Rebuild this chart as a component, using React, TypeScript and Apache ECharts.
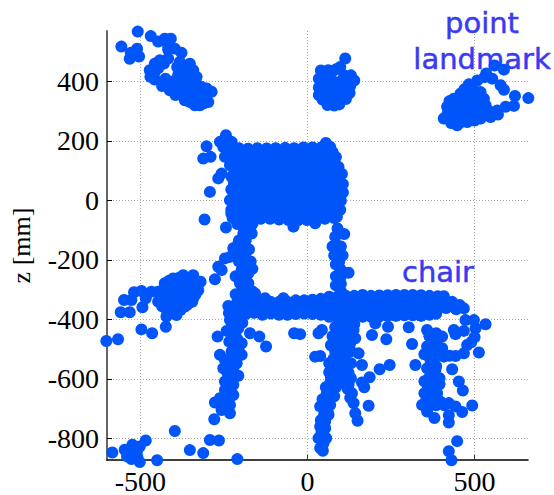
import React, { useEffect, useRef } from "react";
import * as echarts from "echarts";

type P = [number, number];

const upperLeftCluster: P[] = [
  [-508,567],[-557,517],[-510,510],[-529,496],[-532,476],[-504,484],[-469,552],[-447,534],[-427,543],[-409,543],
  [-417,521],[-417,507],[-397,510],[-377,496],[-442,471],[-417,477],[-457,460],[-472,438],[-457,432],[-470,416],
  [-457,407],[-382,466],[-352,460],[-390,449],[-362,438],[-342,438],[-332,416],[-362,416],[-387,421],[-417,393],
  [-392,393],[-362,388],[-332,393],[-302,377],[-287,366],[-412,371],[-382,366],[-352,360],[-322,360],[-297,332],
  [-367,338],[-337,321],[-322,321],[-332,349],[-307,343],[-352,332],[-317,382],[-347,399],
  [-375,445],[-350,425],[-375,405],[-400,380],[-375,380],[-345,375],[-310,360],[-395,355],[-365,352],[-340,335],[-310,328],
  [-430,460],[-447,445],[-405,400],[-435,385],[-425,410],
];

const upperCentreCluster: P[] = [
  [40,437],[62,438],[85,441],[98,449],[113,477],[110,421],[130,421],[140,404],[34,410],[60,412],[34,380],[58,385],
  [82,385],[106,385],[128,385],[34,355],[58,358],[82,360],[106,360],[126,362],[45,340],[68,338],[92,338],[115,342],
  [60,322],[80,320],[95,324],[46,398],[70,398],[94,398],[118,400],[46,370],[70,372],[94,372],[118,374],[56,348],[80,348],[104,350],
  [105,405],[50,425],[70,425],[120,410],
];

const upperRightCluster: P[] = [
  [661,345],[621,352],[588,440],[560,454],[535,427],[553,410],[578,388],[588,373],[508,404],[483,391],[518,365],
  [618,319],[593,316],[568,304],[548,282],[458,360],[438,343],[418,316],[408,277],[448,254],[478,265],[518,277],
  [478,360],[508,354],[528,343],[533,321],[518,304],[493,293],[468,282],[438,277],[433,304],[458,310],[488,321],
  [508,327],[468,343],[493,343],[445,330],[470,315],[430,262],[460,265],[500,270],
  [420,295],[445,295],[425,335],[458,280],[480,305],[505,310],[455,345],[480,335],[500,285],[525,290],[470,375],[495,375],
  [530,415],[570,290],[540,305],
];

const chairBack: P[] = [
  [-205,178],[-178,176],[-150,178],[-122,177],[-95,178],[-67,179],[-40,178],[-12,180],[15,180],[42,181],[68,182],
  [-212,150],[-185,149],[-158,150],[-130,151],[-103,150],[-75,149],[-48,151],[-20,150],[8,151],[35,150],[62,150],[85,148],
  [-216,120],[-188,121],[-160,120],[-133,122],[-105,120],[-78,121],[-50,120],[-23,122],[5,120],[32,121],[60,120],[88,118],
  [-220,92],[-192,90],[-165,92],[-137,90],[-110,91],[-82,90],[-55,92],[-27,90],[0,91],[28,90],[55,92],[82,90],[103,92],
  [-220,60],[-192,62],[-165,60],[-137,61],[-110,60],[-82,62],[-55,60],[-27,61],[0,60],[28,62],[55,60],[82,61],[106,58],
  [-222,30],[-195,32],[-167,30],[-140,31],[-112,30],[-85,32],[-57,30],[-30,31],[-2,30],[25,32],[53,30],[80,31],[106,30],
  [-228,2],[-200,0],[-172,2],[-145,0],[-117,1],[-90,0],[-62,2],[-35,0],[-7,1],[20,0],[48,2],[75,0],[100,2],
  [-228,-28],[-200,-30],[-172,-28],[-145,-30],[-117,-29],[-90,-28],[-62,-30],[-35,-28],[-7,-30],[20,-29],[48,-28],[75,-30],[98,-28],
  [-224,-55],[-196,-58],[-168,-56],[-140,-58],[-112,-58],[-85,-60],[-57,-62],[-30,-64],[-2,-62],[25,-60],[52,-58],[80,-55],
];

const chairBackInner: P[] = [
  [-198,164],[-171,163],[-143,164],[-115,164],[-88,164],[-60,165],[-33,164],[-5,165],[22,165],[48,165],[75,165],
  [-200,135],[-173,135],[-145,136],[-118,136],[-90,135],[-62,135],[-35,136],[-8,136],[18,135],[46,135],[74,134],
  [-204,106],[-176,105],[-148,106],[-120,106],[-93,105],[-66,106],[-38,106],[-10,105],[18,105],[44,106],[72,105],
  [-206,76],[-178,76],[-150,76],[-123,75],[-96,76],[-68,76],[-41,76],[-13,75],[14,76],[41,76],[68,76],[94,75],
  [-208,46],[-180,46],[-152,46],[-126,46],[-98,46],[-70,46],[-43,46],[-16,46],[12,46],[40,46],[66,46],[94,45],
  [-214,16],[-186,16],[-158,16],[-128,16],[-100,16],[-72,16],[-46,16],[-18,16],[10,16],[36,16],[64,16],[90,16],
  [-214,-14],[-186,-14],[-158,-14],[-130,-14],[-103,-14],[-76,-14],[-48,-14],[-20,-14],[6,-14],[34,-14],[62,-14],[88,-14],
  [-210,-43],[-182,-44],[-156,-44],[-128,-44],[-98,-45],[-72,-46],[-44,-46],[-16,-46],[10,-45],[38,-44],[66,-42],
];

const chairBackEdges: P[] = [
  [-244,221],[-262,199],[-227,199],[-302,184],[-312,143],[-290,149],[-267,77],[-257,93],[-292,32],[-308,-60],[-244,-87],
  [-232,4],[-252,182],[-247,149],[-232,121],[-227,82],[55,195],[83,149],[93,115],[88,-51],[-42,-84],[23,-73],[-167,-107],
  [-192,-107],[-232,150],[-225,165],[-228,40],[-228,-40],[-210,-75],[-185,-78],[-165,-75],
];

const backPosts: P[] = [
  [-207,-140],[-222,-156],[-185,-130],[-205,-130],[-200,-160],[-175,-160],[-187,-179],[-182,-207],[-232,-185],[-247,-190],
  [-267,-218],[-257,-229],[-197,-229],[-177,-240],[-202,-273],[-177,-273],[-277,-260],[-197,-301],[-172,-301],[-205,-200],
  [-190,-100],[-195,-250],[-185,-290],[-185,-255],[-170,-200],[-210,-180],[-165,-225],[-215,-250],[-165,-300],[-215,-310],
  [110,-109],[83,-118],[88,-146],[92,-175],[80,-180],[105,-180],[95,-200],[98,-225],[123,-238],[100,-250],[100,-275],[100,-300],
  [90,-90],[75,-150],[100,-150],[85,-210],[85,-250],[85,-280],
];

const seat: P[] = [
  [-237,-349],[-232,-396],[-157,-307],[-127,-323],[-72,-323],
  [-235,-372],[-210,-335],[-185,-330],[-160,-330],[-135,-335],[-110,-335],[-85,-335],[-60,-335],[-35,-330],[-10,-330],[15,-328],[40,-325],
  [-210,-358],[-185,-358],[-160,-358],[-135,-358],[-110,-358],[-85,-358],[-60,-358],[-35,-358],[-10,-358],[15,-358],[40,-355],
  [-210,-378],[-185,-376],[-160,-372],[-135,-378],[-110,-374],[-85,-378],[-60,-378],[-35,-376],[-10,-374],[15,-376],[40,-378],
  [-198,-347],[-172,-345],[-148,-345],[-122,-347],[-97,-347],[-72,-347],[-47,-345],[-22,-345],[3,-343],[28,-342],
  [-198,-368],[-172,-366],[-148,-366],[-122,-366],[-97,-368],[-72,-368],[-47,-367],[-22,-366],[3,-367],[28,-367],
  [65,-318],[90,-318],[115,-315],[140,-315],[165,-312],[190,-315],[215,-314],[240,-313],[265,-312],[290,-312],[315,-312],[340,-313],[365,-315],[390,-316],[408,-316],
  [65,-342],[90,-342],[115,-342],[140,-342],[165,-340],[190,-342],[215,-340],[240,-342],[265,-340],[290,-340],[315,-340],[340,-340],[365,-340],[390,-338],[415,-335],[433,-335],
  [65,-368],[90,-368],[115,-366],[140,-366],[165,-368],[190,-366],[215,-368],[240,-366],[265,-366],[290,-366],[315,-366],[340,-366],[365,-364],[390,-360],[415,-356],[456,-346],[468,-357],[445,-360],
  [65,-385],[90,-388],[115,-386],[140,-385],[165,-385],[190,-385],[215,-384],[240,-382],[265,-382],[290,-380],[315,-380],[340,-382],[365,-378],[385,-375],
  [78,-330],[102,-330],[128,-328],[152,-327],[178,-327],[202,-327],[228,-327],[252,-326],[278,-326],[302,-326],[328,-326],[352,-326],[378,-327],[402,-328],
  [78,-355],[102,-355],[128,-354],[152,-354],[178,-354],[202,-354],[228,-354],[252,-353],[278,-353],[302,-353],[328,-353],[352,-352],[378,-350],[402,-347],
  [78,-377],[102,-377],[128,-376],[152,-376],[178,-376],[202,-376],[228,-375],[252,-374],[278,-373],[302,-373],[328,-373],[352,-372],
];

const looseUnderSeat: P[] = [
  [-22,-443],[-124,-484],[-144,-451],[-172,-440],[203,-407],[241,-418],[303,-420],[193,-446],[236,-460],[313,-476],
  [246,-546],[216,-560],[186,-587],[323,-546],[163,-604],[170,-620],[183,-682],[433,-560],[453,-601],[465,-631],
  [493,-681],[513,-504],[533,-410],[448,-800],[423,-834],[431,-864],[463,-703],[423,-714],[423,-738],[380,-723],
  [23,-518],[38,-516],[-40,-440],
];

const leftLump: P[] = [
  [-602,-466],[-567,-460],[-497,-427],[-465,-440],[-424,-418],[-559,-370],[-532,-370],[-549,-329],[-519,-303],[-497,-299],
  [-494,-353],[-527,-329],[-484,-323],[-467,-301],[-342,-246],[-372,-246],[-402,-257],[-427,-273],[-447,-301],[-447,-334],
  [-424,-357],[-422,-384],[-392,-379],[-367,-351],[-342,-323],[-327,-296],[-320,-268],[-372,-273],[-347,-273],[-397,-284],
  [-372,-301],[-347,-301],[-417,-307],[-392,-312],[-367,-326],[-412,-334],[-392,-346],[-402,-360],
  [-357,-258],[-387,-262],[-410,-280],[-360,-288],[-385,-290],[-428,-290],[-405,-295],[-335,-285],[-355,-315],[-380,-320],
  [-405,-320],[-430,-320],[-425,-340],[-380,-338],[-405,-372],[-380,-362],[-355,-338],[-440,-315],[-435,-350],[-410,-350],
  [-380,-275],[-330,-275],[-335,-310],[-345,-335],[-360,-345],[-385,-255],[-415,-265],
];

const frontLeftLeg: P[] = [
  [-212,-384],[-207,-423],[-242,-432],[-269,-451],[-234,-468],[-197,-473],[-217,-484],[-227,-501],[-262,-512],[-197,-512],
  [-247,-529],[-212,-540],[-252,-557],[-222,-557],[-207,-582],[-232,-584],[-247,-601],[-222,-612],[-247,-629],[-222,-646],
  [-262,-657],[-277,-671],[-232,-679],[-252,-679],[-257,-696],[-232,-707],[-279,-727],[-222,-440],[-210,-460],[-225,-525],
  [-195,-405],[-225,-415],[-215,-450],[-205,-500],[-235,-545],[-240,-570],[-235,-620],[-235,-655],[-245,-665],[-240,-690],
];

const floorLeft: P[] = [
  [-584,-838],[-547,-829],[-524,-812],[-502,-818],[-484,-798],[-540,-851],[-527,-860],[-509,-853],[-502,-870],[-450,-864],
  [-397,-766],[-352,-830],[-312,-840],[-292,-796],[-265,-798],[-210,-860],[-530,-835],[-510,-832],
];

const frontCentreLeg: P[] = [
  [83,-420],[113,-420],[43,-429],[33,-440],[83,-451],[113,-440],[143,-457],[138,-429],[98,-473],[128,-473],[83,-501],[118,-507],
  [153,-507],[163,-546],[78,-546],[108,-551],[78,-525],[105,-528],[123,-573],[83,-579],[105,-585],[98,-607],[123,-612],[73,-629],
  [133,-640],[138,-673],[143,-707],[150,-732],[58,-640],[68,-679],[53,-684],[63,-712],[53,-734],[53,-757],[56,-790],[48,-807],
  [46,-832],[38,-684],[38,-751],[33,-790],[38,-823],[85,-620],[68,-605],[62,-660],[98,-400],[98,-435],[105,-460],[100,-490],
  [92,-525],[92,-560],[100,-570],[75,-610],[50,-710],[40,-730],[42,-770],[128,-655],[120,-625],
  [70,-480],[130,-500],[65,-540],[65,-570],[130,-590],[70,-585],[55,-620],[80,-650],[45,-660],[60,-700],[130,-540],[115,-590],[75,-450],[125,-415],[140,-410],
];

const rearRightLeg: P[] = [
  [358,-429],[403,-451],[378,-473],[358,-484],[403,-490],[373,-507],[408,-518],[443,-516],[468,-507],[478,-479],[500,-453],
  [503,-423],[498,-396],[473,-396],[438,-429],[468,-432],[443,-443],[368,-529],[378,-535],[358,-557],[383,-562],[363,-590],
  [378,-612],[358,-640],[388,-640],[373,-662],[343,-679],[368,-679],[398,-668],[423,-673],[443,-684],[358,-701],[380,-580],
  [360,-615],[385,-470],[490,-470],[425,-515],[385,-500],[385,-550],[372,-640],[355,-665],[385,-680],[410,-680],
  [365,-450],[385,-440],[350,-510],[350,-600],[395,-610],[395,-590],[375,-600],[365,-650],[350,-640],
];

const allPoints: P[] = [
  ...upperLeftCluster, ...upperCentreCluster, ...upperRightCluster, ...chairBack, ...chairBackInner, ...chairBackEdges, ...backPosts,
  ...seat, ...looseUnderSeat, ...leftLump, ...frontLeftLeg, ...floorLeft, ...frontCentreLeg, ...rearRightLeg,
];

const yAxisName = "z [mm]";
const annotations = ["point", "landmark", "chair"];

export default function App() {
  const axesRef = useRef<HTMLDivElement>(null);
  const pointsRef = useRef<HTMLDivElement>(null);
  useEffect(() => {
    const axesChart = echarts.init(axesRef.current!, undefined, { renderer: "svg" });
    const pointsChart = echarts.init(pointsRef.current!, undefined, { renderer: "svg" });
    const serif = "Liberation Serif";
    const grid = { left: 107, right: 26, top: 31, bottom: 32 };
    const splitLine = { show: true, showMinLine: false, showMaxLine: false, lineStyle: { color: "#a8a8a8", type: [1, 2] as any, width: 1 } };
    const annotationStyle = { fill: "#3a3af2", stroke: "#3a3af2", lineWidth: 0.5, fontFamily: "DejaVu Sans", fontSize: 29, textAlign: "center" as const };
    axesChart.setOption({
      animation: false,
      backgroundColor: "#ffffff",
      grid,
      xAxis: {
        type: "value", min: -600, max: 660, splitNumber: 3,
        axisLine: { onZero: false, lineStyle: { color: "#000", width: 1.5 } },
        axisTick: { inside: true, length: 5, lineStyle: { color: "#333" } },
        axisLabel: { color: "#000", fontFamily: serif, fontSize: 28, margin: 7, showMinLabel: false, showMaxLabel: false },
        splitLine,
      },
      yAxis: {
        type: "value", min: -873, max: 569, splitNumber: 7,
        name: yAxisName, nameLocation: "middle", nameGap: 73,
        nameTextStyle: { color: "#000", fontFamily: serif, fontSize: 26 },
        axisLine: { onZero: false, lineStyle: { color: "#666", width: 2 } },
        axisTick: { inside: true, length: 5, lineStyle: { color: "#000" } },
        axisLabel: { color: "#000", fontFamily: serif, fontSize: 28, margin: 8, showMinLabel: false, showMaxLabel: false },
        splitLine,
      },
      series: [{ type: "scatter", data: [] }],
      graphic: [
        { type: "text", x: 482, y: 8, z: 10, style: { ...annotationStyle, text: annotations[0] } },
        { type: "text", x: 482, y: 44, z: 10, style: { ...annotationStyle, text: annotations[1] } },
        { type: "text", x: 438, y: 257, z: 10, style: { ...annotationStyle, text: annotations[2] } },
      ],
    });
    pointsChart.setOption({
      animation: false,
      grid,
      xAxis: { type: "value", min: -600, max: 660, show: false },
      yAxis: { type: "value", min: -873, max: 569, show: false },
      series: [{
        type: "scatter", data: allPoints, symbol: "circle", symbolSize: 12, clip: false,
        itemStyle: { color: "#0055fa", opacity: 1 },
      }],
    });
    return () => { axesChart.dispose(); pointsChart.dispose(); };
  }, []);
  const box = { position: "absolute" as const, left: 0, top: 0, width: 554, height: 495 };
  return (
    <>
      <div ref={axesRef} style={box} />
      <div ref={pointsRef} style={box} />
    </>
  );
}
